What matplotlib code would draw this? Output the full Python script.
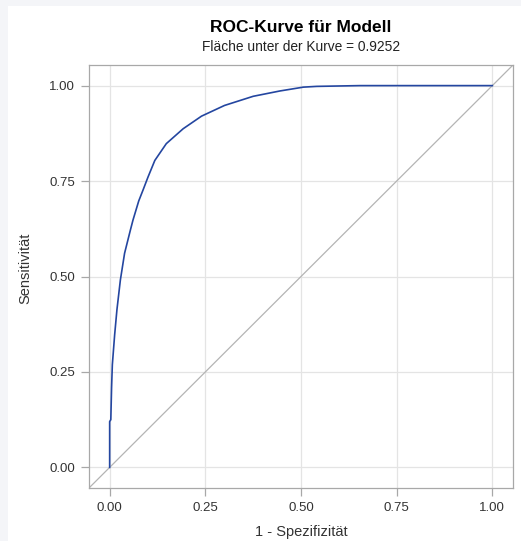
import matplotlib.pyplot as plt
from matplotlib.patches import Rectangle

plt.rcParams['font.family'] = ['Liberation Sans', 'DejaVu Sans']

# ROC curve points (1 - specificity, sensitivity)
fpr = [0, 0, 0.003, 0.005, 0.007, 0.013, 0.019, 0.028, 0.039, 0.054, 0.061, 0.076,
       0.087, 0.100, 0.118, 0.148, 0.192, 0.240, 0.300, 0.375, 0.445, 0.506, 0.541,
       0.654, 1.0]
tpr = [0, 0.120, 0.125, 0.209, 0.269, 0.347, 0.413, 0.491, 0.561, 0.621, 0.648, 0.698,
       0.726, 0.760, 0.804, 0.848, 0.887, 0.920, 0.948, 0.972, 0.986, 0.996, 0.998,
       1.0, 1.0]
ticks = [0.0, 0.25, 0.5, 0.75, 1.0]
tick_labels = ['0.00', '0.25', '0.50', '0.75', '1.00']
auc = 0.9252

fig = plt.figure(figsize=(5.21, 5.41), dpi=100, facecolor='#f4f5f8')
fig.patches.append(Rectangle((8 / 521, 0), 1, 1 - 6 / 541, transform=fig.transFigure,
                             facecolor='white', edgecolor='none', zorder=-1))
ax = fig.add_axes([89 / 521, 53 / 541, 424 / 521, 423 / 541])

lo, hi = -0.054, 1.054
ax.plot([lo, hi], [lo, hi], color='#b4b4b4', lw=0.9, zorder=2)
ax.plot(fpr, tpr, color='#2446a0', lw=1.2, zorder=3)

ax.set_xlim(lo, hi)
ax.set_ylim(lo, hi)
ax.set_xticks(ticks)
ax.set_xticklabels(tick_labels)
ax.set_yticks(ticks)
ax.set_yticklabels(tick_labels)
ax.grid(True, color='#e4e4e4', lw=0.9)
ax.set_axisbelow(True)
for s in ax.spines.values():
    s.set_color('#a8a8a8')
    s.set_linewidth(0.9)
ax.tick_params(colors='#a8a8a8', labelcolor='#333333', labelsize=9.5, length=6, width=0.9, pad=4)

ax.set_xlabel('1 - Spezifizität', fontsize=10.5, color='#333333', labelpad=8)
ax.set_ylabel('Sensitivität', fontsize=10.5, color='#333333')
ax.yaxis.set_label_coords(-0.133, 0.52)

cx = (89 + 424 / 2) / 521
fig.text(cx, 1 - 28 / 541, 'ROC-Kurve für Modell', ha='center', va='center',
         fontsize=12.5, fontweight='bold', color='#000000')
fig.text(cx, 1 - 47 / 541, 'Fläche unter der Kurve = %.4f' % auc, ha='center', va='center',
         fontsize=9.9, color='#222222')

fig.savefig('out.png', dpi=100, facecolor=fig.get_facecolor())
